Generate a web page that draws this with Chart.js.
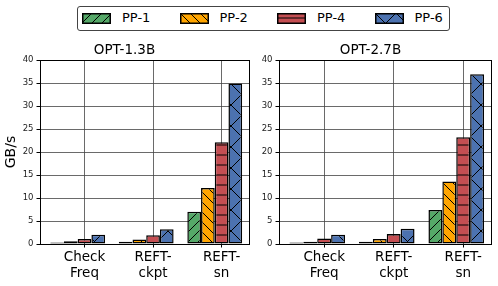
<!DOCTYPE html>
<html>
<head>
<meta charset="utf-8">
<script src="https://cdn.jsdelivr.net/npm/chart.js@4/dist/chart.umd.min.js"></script>
<style>
  body { margin: 0; background: #fff; font-family: "DejaVu Sans", sans-serif; }
  #wrap { position: relative; width: 498px; height: 286px; overflow: hidden; }
  #c1 { position: absolute; left: 0; top: 0; }
  #c2 { position: absolute; left: 250px; top: 0; }
  #legend { position: absolute; left: 77px; top: 6px; width: 371px; height: 23px;
            border: 1px solid #444; border-radius: 3px; background: #fff; }
  .sw { position: absolute; top: 6px; }
  .lt { position: absolute; top: 3px; font-size: 13px; color: #000; line-height: 16px; }
</style>
</head>
<body>
<div id="wrap">
  <canvas id="c1" width="250" height="286"></canvas>
  <canvas id="c2" width="248" height="286"></canvas>
  <div id="legend"></div>
</div>
<script>
// data
var categories = [['Check', 'Freq'], ['REFT-', 'ckpt'], ['REFT-', 'sn']];
var seriesNames = ['PP-1', 'PP-2', 'PP-4', 'PP-6'];
var colors = ['#55a868', '#ffa500', '#c44e52', '#4c72b0'];
var hatches = ['/', '\\', '-', 'x'];

var opt13 = {
  'PP-1': [0.3, 0.5, 7.0],
  'PP-2': [0.6, 1.0, 12.2],
  'PP-4': [1.1, 1.9, 22.1],
  'PP-6': [2.0, 3.2, 34.9]
};
var opt27 = {
  'PP-1': [0.3, 0.5, 7.4],
  'PP-2': [0.5, 1.1, 13.6],
  'PP-4': [1.2, 2.2, 23.2],
  'PP-6': [2.0, 3.3, 36.9]
};
var yTicks = [0, 5, 10, 15, 20, 25, 30, 35, 40];

var tickShift = 0.1;

var makePattern = (color, hatch) => {
  var n = hatch === 'x' ? 21 : 10;
  var c = document.createElement('canvas');
  c.width = n; c.height = n;
  var g = c.getContext('2d');
  g.fillStyle = color;
  g.fillRect(0, 0, n, n);
  g.strokeStyle = '#000';
  g.lineWidth = 1;
  g.beginPath();
  if (hatch === '/' || hatch === 'x') {
    for (var k = -1; k <= 1; k++) {
      g.moveTo(k * n - 1, n + 1);
      g.lineTo(k * n + n + 1, -1);
    }
  }
  if (hatch === '\\' || hatch === 'x') {
    for (var k = -1; k <= 1; k++) {
      g.moveTo(k * n - 1, -1);
      g.lineTo(k * n + n + 1, n + 1);
    }
  }
  if (hatch === '-') {
    g.moveTo(0, n / 2);
    g.lineTo(n, n / 2);
  }
  g.stroke();
  return g.createPattern(c, 'repeat');
};

var spines = {
  id: 'spines',
  afterDatasetsDraw(chart) {
    var a = chart.chartArea, ctx = chart.ctx;
    ctx.save();
    ctx.strokeStyle = '#000';
    ctx.lineWidth = 1;
    ctx.strokeRect(Math.round(a.left) + 0.5, Math.round(a.top) + 0.5,
                   Math.round(a.right - a.left), Math.round(a.bottom - a.top));
    ctx.restore();
  }
};

var makeChart = (el, title, values, yWidth, padRight, showYTitle) => {
  var ctx = el.getContext('2d');
  var datasets = seriesNames.map((name, s) => ({
    label: name,
    data: values[name].map((v, i) => ({ x: i, y: v })),
    backgroundColor: makePattern(colors[s], hatches[s]),
    borderColor: '#000',
    borderWidth: 1.5,
    borderSkipped: false,
    categoryPercentage: 0.8,
    barPercentage: 1.0
  }));
  return new Chart(ctx, {
    type: 'bar',
    data: { datasets: datasets },
    plugins: [spines],
    options: {
      responsive: false,
      animation: false,
      layout: { padding: { top: 40, right: padRight, left: 0, bottom: 0 } },
      plugins: {
        legend: { display: false },
        tooltip: { enabled: false },
        title: {
          display: true, text: title, color: '#000',
          font: { family: 'DejaVu Sans', size: 13.5, weight: 'normal', lineHeight: 1.2 },
          padding: { top: 2.6, bottom: 1.2 }
        }
      },
      scales: {
        x: {
          type: 'linear', min: -0.55, max: 2.5, offset: false,
          afterBuildTicks: s => { s.ticks = categories.map((c, i) => ({ value: i + tickShift })); },
          afterFit: s => { s.height = 42; },
          ticks: {
            autoSkip: false, maxRotation: 0, color: '#000', padding: 2,
            font: { family: 'DejaVu Sans', size: 13.5, lineHeight: 1.2 },
            callback: (v, i) => categories[i]
          },
          grid: {
            color: '#444', lineWidth: 0.8, borderDash: [1.5, 1.5], offset: false,
            tickLength: 3.5, tickColor: '#000', tickWidth: 1, tickBorderDash: []
          },
          border: { display: true, color: '#000', width: 1 }
        },
        y: {
          min: 0, max: 40,
          afterBuildTicks: s => { s.ticks = yTicks.map(v => ({ value: v })); },
          afterFit: s => { s.width = yWidth; },
          ticks: {
            color: '#222', padding: 3,
            font: { family: 'DejaVu Sans', size: 8.5 }
          },
          grid: {
            color: '#444', lineWidth: 0.8, borderDash: [1.5, 1.5],
            tickLength: 3.5, tickColor: '#000', tickWidth: 1, tickBorderDash: []
          },
          border: { display: true, color: '#000', width: 1 },
          title: {
            display: showYTitle, text: 'GB/s', color: '#000',
            font: { family: 'DejaVu Sans', size: 14 },
            padding: { top: 3, bottom: 0 }
          }
        }
      }
    }
  });
};

makeChart(document.getElementById('c1'), 'OPT-1.3B', opt13, 40, 1, true);
makeChart(document.getElementById('c2'), 'OPT-2.7B', opt27, 29, 7, false);

// legend
var legend = document.getElementById('legend');
seriesNames.forEach((name, s) => {
  var sw = document.createElement('canvas');
  sw.width = 29; sw.height = 11;
  sw.className = 'sw';
  sw.style.left = (4 + s * 97.5) + 'px';
  var g = sw.getContext('2d');
  g.fillStyle = makePattern(colors[s], hatches[s]);
  g.fillRect(0, 0, 29, 11);
  g.strokeStyle = '#000';
  g.lineWidth = 1.5;
  g.strokeRect(0.75, 0.75, 27.5, 9.5);
  legend.appendChild(sw);
  var t = document.createElement('div');
  t.className = 'lt';
  t.style.left = (44 + s * 97.5) + 'px';
  t.textContent = name;
  legend.appendChild(t);
});
</script>
</body>
</html>
